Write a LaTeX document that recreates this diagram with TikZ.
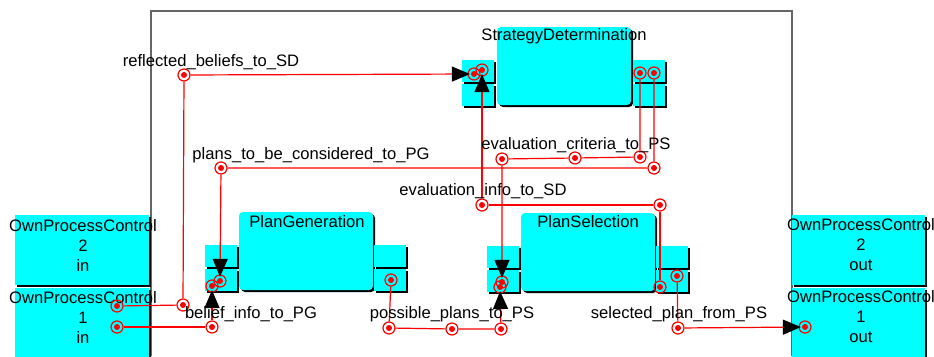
\documentclass[tikz,border=0pt]{standalone}
\usepackage{fontspec}
\setmainfont{Liberation Sans}
\usetikzlibrary{arrows.meta}
\definecolor{boxcyan}{RGB}{0,255,255}
\tikzset{
  lbl/.style={font=\fontsize{16.6}{20}\selectfont, inner sep=0pt, align=center},
  frameline/.style={draw=gray!80!black, line width=1.4pt},
  compbox/.style={fill=boxcyan, rounded corners=4pt, inner sep=0pt,
    minimum width=134pt, minimum height=78pt,
    preaction={fill=black, transform canvas={shift={(2pt,-2pt)}}}},
  portcell/.style={fill=boxcyan, inner sep=0pt, minimum width=32pt, minimum height=22pt,
    preaction={fill=black, transform canvas={shift={(2pt,-2pt)}}}},
  iobox/.style={fill=boxcyan, inner sep=0pt, minimum width=134pt,
    preaction={fill=black, transform canvas={shift={(2pt,-2pt)}}}},
  knot/.style={circle, draw=red, line width=1.2pt, inner sep=0pt, minimum size=12pt,
    path picture={\fill[red] (path picture bounding box.center) circle (3pt);}},
  link/.style={draw=red, line width=1.2pt},
  flow/.style={link, -{Triangle[length=18pt,width=15pt,color=black]}, shorten >=-2.5pt},
}
\begin{document}
\begin{tikzpicture}[x=1pt,y=-1pt]
\useasboundingbox (0,0) rectangle (934,356);
\draw[frameline] (151,356) -- (151,11) -- (792,11) -- (792,356);
% interface boxes
\node[iobox, minimum height=70pt] (opc2in) at (82,250){};
\node[iobox, minimum height=82pt] (opc1in) at (82,329){};
\node[iobox, minimum height=70pt, minimum width=133pt] (opc2out) at (858.5,250){};
\node[iobox, minimum height=82pt, minimum width=133pt] (opc1out) at (858.5,329){};
\node[lbl] (opc2in-t) at (83,245){OwnProcessControl\\2\\in};
\node[lbl] (opc1in-t) at (83,317){OwnProcessControl\\1\\in};
\node[lbl] (opc2out-t) at (861,245){OwnProcessControl\\2\\out};
\node[lbl] (opc1out-t) at (861,317){OwnProcessControl\\1\\out};
% components
\node[compbox] (sd) at (564,66){};
\node[portcell] (sdl1) at (478,71){};
\node[portcell] (sdl2) at (478,95){};
\node[portcell] (sdr1) at (649,71){};
\node[portcell] (sdr2) at (649,95){};
\node[lbl] (sd-t) at (564,36){StrategyDetermination};
\node[compbox] (pg) at (306,251){};
\node[portcell] (pgl1) at (221,256){};
\node[portcell] (pgl2) at (221,280){};
\node[portcell] (pgr1) at (390,256){};
\node[portcell] (pgr2) at (390,280){};
\node[lbl] (pg-t) at (307,222){PlanGeneration};
\node[compbox] (ps) at (588,252){};
\node[portcell] (psl1) at (503,257){};
\node[portcell] (psl2) at (503,281){};
\node[portcell] (psr1) at (672,257){};
\node[portcell] (psr2) at (672,281){};
\node[lbl] (ps-t) at (588,222){PlanSelection};
% pins and bends
\node[knot] (opc1ina) at (117,306){};
\node[knot] (opc1inb) at (117,327){};
\node[knot] (opc1outa) at (805,327){};
\node[knot] (sdin1) at (474,74){};
\node[knot] (sdin2) at (482,70){};
\node[knot] (sdout1) at (640,73){};
\node[knot] (sdout2) at (654,73){};
\node[knot] (pgin1) at (220,281){};
\node[knot] (pgin2) at (212,286){};
\node[knot] (pgout) at (391,280){};
\node[knot] (psin1) at (502,282){};
\node[knot] (psin2) at (500,287){};
\node[knot] (psout1) at (660,287){};
\node[knot] (psout2) at (677,276){};
\node[knot] (rb1) at (183,305){};
\node[knot] (rb2) at (184,75){};
\node[knot] (bi1) at (212,327){};
\node[knot] (pc1) at (654,168){};
\node[knot] (pc2) at (221,168){};
\node[knot] (ec1) at (640,157){};
\node[knot] (ec2) at (575,158){};
\node[knot] (ec3) at (502,159){};
\node[knot] (ei1) at (660,205){};
\node[knot] (ei2) at (482,205){};
\node[knot] (pp1) at (389,328){};
\node[knot] (pp2) at (452,329){};
\node[knot] (pp3) at (501,329){};
\node[knot] (sp1) at (678,328){};
% links
\draw[flow] (opc1ina) -- (rb1) -- (rb2) -- (sdin1);
\draw[flow] (opc1inb) -- (bi1) -- (pgin2);
\draw[flow] (sdout2) -- (pc1) -- (pc2) -- (pgin1);
\draw[flow] (sdout1) -- (ec1) -- (ec2) -- (ec3) -- (psin1);
\draw[flow] (psout1) -- (ei1) -- (ei2) -- (sdin2);
\draw[flow] (pgout) -- (pp1) -- (pp2) -- (pp3) -- (psin2);
\draw[flow] (psout2) -- (sp1) -- (opc1outa);
% link labels
\node[lbl] (rb-t) at (211,62){reflected\_beliefs\_to\_SD};
\node[lbl] (pc-t) at (311,155){plans\_to\_be\_considered\_to\_PG};
\node[lbl] (ec-t) at (576,145){evaluation\_criteria\_to\_PS};
\node[lbl] (ei-t) at (483,191){evaluation\_info\_to\_SD};
\node[lbl] (bi-t) at (251,314){belief\_info\_to\_PG};
\node[lbl] (pp-t) at (452,314){possible\_plans\_to\_PS};
\node[lbl] (sp-t) at (679,314){selected\_plan\_from\_PS};
\end{tikzpicture}
\end{document}
